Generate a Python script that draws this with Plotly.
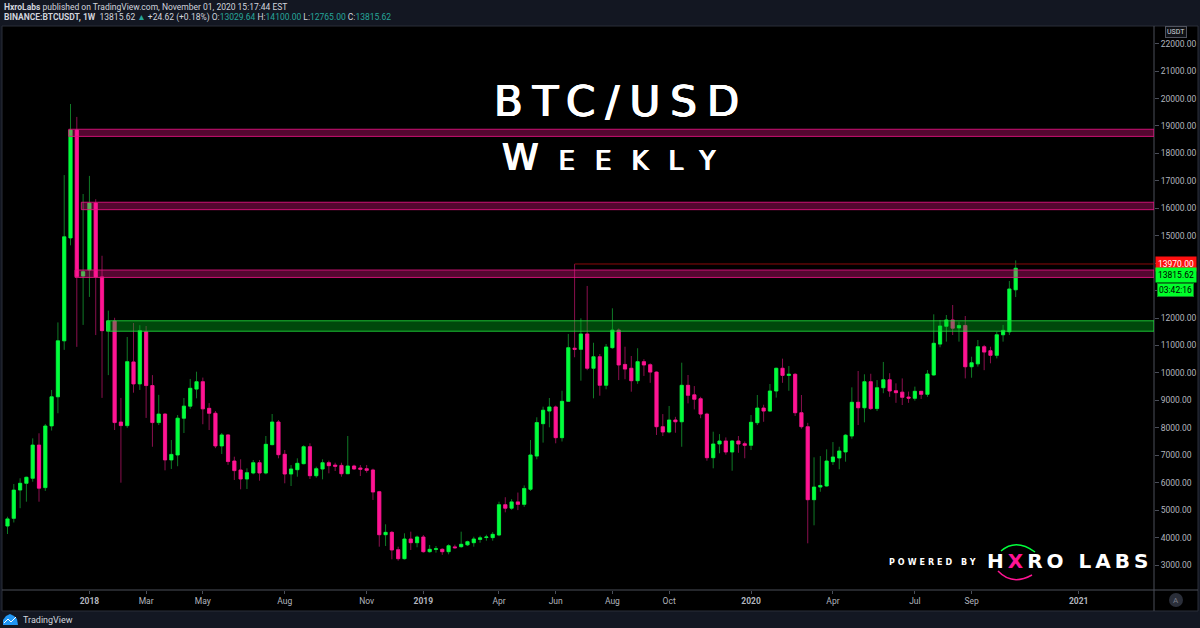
import plotly.graph_objects as go
import pandas as pd

# ---------------- data (weekly BINANCE:BTCUSDT) ----------------
week_start = "2017-10-02"
opens = [4420, 4700, 5733, 5977, 6160, 7370, 5820, 8070, 9130, 11170,
         14920, 18850, 13530, 13750, 16190, 13500, 11540, 11890, 8210, 8080,
         10400, 9600, 11500, 9540, 8190, 8500, 6830, 7010, 8350, 8790,
         9410, 9680, 8710, 8530, 7340, 7740, 6790, 6462, 6134, 6353,
         6728, 6353, 7386, 8211, 7034, 6316, 6473, 6692, 7311, 6254,
         6498, 6728, 6640, 6630, 6327, 6608, 6535, 6510, 6462, 5671,
         4104, 4190, 3558, 3230, 3948, 3813, 4020, 3485, 3570, 3572,
         3485, 3660, 3667, 3735, 3813, 3930, 4000, 3997, 4093, 5197,
         5070, 5300, 5210, 5760, 6970, 8150, 8610, 8760, 7640, 8965,
         10900, 10860, 11420, 10170, 10590, 9550, 10920, 11560, 10310, 10170,
         9717, 10410, 10300, 10030, 8040, 7847, 8284, 8220, 9549, 9200,
         9060, 8500, 6910, 7410, 7520, 7118, 7520, 7420, 7362, 8186,
         8720, 8610, 9340, 10170, 9910, 9950, 8550, 8040, 5380, 5840,
         5880, 6765, 6900, 7120, 7700, 8930, 8730, 9680, 8700, 9460,
         9750, 9350, 9300, 9120, 9075, 9330, 9220, 9925, 11050, 11700,
         11930, 11640, 11730, 10225, 10330, 10955, 10810, 10640, 11390, 11500,
         13029.64]
highs = [4760, 5950, 6160, 6218, 7615, 7800, 8140, 9380, 11840, 17210,
         19800, 19330, 16520, 17180, 16330, 14270, 12270, 12010, 9090, 11310,
         11820, 11740, 11710, 9920, 9200, 8530, 7555, 8466, 9086, 9780,
         10045, 9830, 8900, 8610, 7810, 7770, 6947, 6852, 6524, 6827,
         6827, 7701, 8503, 8284, 7191, 6644, 6888, 7362, 7435, 6582,
         6852, 6801, 6728, 6728, 7700, 6655, 6644, 6644, 6510, 5700,
         4483, 4239, 3667, 4155, 4215, 4070, 4093, 3729, 3692, 3608,
         3754, 3740, 4215, 3885, 4031, 4068, 4104, 4200, 5307, 5470,
         5400, 5640, 5900, 7555, 8383, 8770, 9086, 8810, 9350, 11420,
         13970, 11990, 13170, 11100, 10690, 11054, 12355, 11620, 10955, 10617,
         10900, 10500, 10350, 10060, 8500, 8795, 8400, 10373, 9924, 9520,
         9130, 8550, 7858, 7770, 7650, 7550, 7700, 7500, 8466, 9195,
         8840, 9596, 10190, 10520, 10250, 9990, 9195, 8180, 6925, 6970,
         7216, 7480, 7310, 7770, 9475, 10070, 9950, 9970, 9740, 10400,
         9990, 9620, 9800, 9320, 9500, 9340, 10105, 12135, 11930, 12110,
         12475, 11870, 12075, 10590, 11200, 11020, 10955, 11500, 11750, 13350,
         14100]
lows = [4130, 4550, 5070, 5307, 6035, 5307, 5700, 7900, 8530, 10840,
        14650, 10950, 11750, 12770, 11380, 9090, 9920, 7920, 6000, 8000,
        9280, 9380, 8360, 7310, 8100, 6450, 6500, 6600, 7810, 8690,
        9075, 8130, 7920, 7260, 7045, 6650, 6098, 5758, 5770, 6305,
        6072, 6305, 7362, 6888, 5977, 5879, 6218, 6670, 6134, 6182,
        6122, 6342, 6426, 6218, 6316, 6462, 6243, 6364, 5370, 3667,
        3692, 3207, 3157, 3200, 3547, 3645, 3450, 3450, 3450, 3370,
        3390, 3594, 3630, 3692, 3667, 3813, 3885, 3885, 4050, 4920,
        5010, 5000, 5120, 5700, 6852, 7460, 8018, 7435, 7500, 8950,
        10570, 9717, 10100, 9075, 9170, 9403, 10880, 9740, 9770, 9316,
        9600, 9890, 9640, 7738, 7700, 7800, 7820, 7310, 8890, 8670,
        8350, 6800, 6524, 7070, 7020, 6436, 7090, 6890, 7190, 8100,
        8220, 8580, 9100, 9640, 9350, 8430, 7970, 3790, 4447, 5670,
        5855, 6644, 6490, 6765, 7600, 8100, 8200, 8650, 8610, 9260,
        9130, 8910, 8830, 8910, 8990, 9050, 9130, 9900, 10935, 11140,
        11380, 11140, 9800, 9825, 10230, 10100, 10350, 10530, 11140, 11380,
        12765]
closes = [4680, 5730, 5977, 6197, 7370, 5800, 8066, 9130, 11170, 14960,
          18850, 13510, 13690, 16190, 13500, 11540, 11890, 8190, 8080, 10410,
          9600, 11540, 9540, 8190, 8500, 6830, 7030, 8350, 8790, 9440,
          9680, 8690, 8530, 7340, 7740, 6770, 6440, 6134, 6364, 6728,
          6353, 7398, 8211, 7020, 6316, 6499, 6706, 7311, 6254, 6510,
          6728, 6619, 6600, 6327, 6608, 6500, 6488, 6450, 5660, 4104,
          4190, 3547, 3230, 3948, 3813, 4020, 3485, 3572, 3590, 3485,
          3703, 3630, 3754, 3850, 3948, 3990, 4020, 4118, 5197, 5070,
          5300, 5210, 5790, 7010, 8190, 8640, 8760, 7640, 8965, 10920,
          10860, 11420, 10170, 10590, 9550, 10945, 11560, 10290, 10140, 9717,
          10410, 10290, 10030, 8040, 7847, 8284, 8220, 9549, 9184, 9040,
          8500, 6910, 7410, 7520, 7118, 7520, 7410, 7362, 8200, 8720,
          8610, 9340, 10170, 9910, 9950, 8550, 8040, 5380, 5840, 5900,
          6790, 6936, 7155, 7730, 8930, 8730, 9680, 8700, 9460, 9750,
          9340, 9280, 9110, 9080, 9330, 9220, 9960, 11080, 11710, 11930,
          11630, 11730, 10225, 10370, 10955, 10760, 10640, 11390, 11550, 13060,
          13815.62]

dates = pd.date_range(week_start, periods=len(opens), freq="7D")

# drawn zones (support / resistance) and the 2019 high line
zone_starts = ["2017-12-09", "2017-12-23", "2017-12-16", "2018-01-20"]
zone_lows = [18620, 15950, 13480, 11520]
zone_highs = [18880, 16220, 13750, 11900]
zone_kinds = ["res", "res", "res", "sup"]
high_level = 13970
high_start = "2019-06-24"
last_close = 13815.62
countdown = "03:42:16"

x_range = ["2017-09-27", "2021-03-28 16:00"]
y_range = [2089, 22643]
x_tick_dates = ["2018-01-01", "2018-03-05", "2018-05-07", "2018-08-06", "2018-11-05",
                "2019-01-07", "2019-04-01", "2019-06-03", "2019-08-05", "2019-10-07",
                "2020-01-06", "2020-04-06", "2020-07-06", "2020-09-07", "2021-01-04"]
x_tick_labels = ["<b>2018</b>", "Mar", "May", "Aug", "Nov", "<b>2019</b>", "Apr", "Jun",
                 "Aug", "Oct", "<b>2020</b>", "Apr", "Jul", "Sep", "<b>2021</b>"]
y_ticks = [3000, 4000, 5000, 6000, 7000, 8000, 9000, 10000, 11000, 12000,
           13000, 14000, 15000, 16000, 17000, 18000, 19000, 20000, 21000, 22000]
y_tick_labels = [f"{v:.2f}" for v in y_ticks]
# labels hidden by TradingView next to the price labels
y_tick_labels[y_ticks.index(13000)] = ""
y_tick_labels[y_ticks.index(14000)] = ""

# ---------------- styling ----------------
W, H = 1200, 628
ML, MR, MT, MB = 3, 46, 26, 38
PW, PH = W - ML - MR, H - MT - MB


def px(x):
    return (x - ML) / PW


def py(y):
    return (H - MB - y) / PH


UP, DN = "#00ff3c", "#ff1493"
UP_W, DN_W = "#0f7a26", "#8a0f4e"
AX = "#4a4e59"
TXT = "#b2b5be"
BG = "#131722"
EMBOLDEN = "0.7px 0 0 #ffffff, -0.7px 0 0 #ffffff, 0 0.4px 0 #ffffff"

body_hi = [max(o, c) for o, c in zip(opens, closes)]
body_lo = [min(o, c) for o, c in zip(opens, closes)]

fig = go.Figure()
# wicks
fig.add_trace(go.Candlestick(
    x=dates, open=opens, high=highs, low=lows, close=closes,
    increasing=dict(line=dict(color=UP_W, width=1), fillcolor=UP_W),
    decreasing=dict(line=dict(color=DN_W, width=1), fillcolor=DN_W),
    hoverinfo="skip", showlegend=False))
# bodies
fig.add_trace(go.Candlestick(
    x=dates, open=opens, high=body_hi, low=body_lo, close=closes,
    increasing=dict(line=dict(color=UP, width=0.6), fillcolor=UP),
    decreasing=dict(line=dict(color=DN, width=0.6), fillcolor=DN),
    hoverinfo="skip", showlegend=False))

shapes = []
# chart panel (black) with frame
shapes.append(dict(type="rect", xref="paper", yref="paper", x0=px(2), x1=px(1198),
                   y0=py(611), y1=py(26), fillcolor="#000000",
                   line=dict(color="#2a2e39", width=1), layer="below"))
# axis separators
shapes.append(dict(type="line", xref="paper", yref="paper", x0=px(2), x1=px(1198),
                   y0=0, y1=0, line=dict(color=AX, width=1)))
shapes.append(dict(type="line", xref="paper", yref="paper", x0=1, x1=1,
                   y0=py(611), y1=1, line=dict(color=AX, width=1)))

for s, lo, hi, kind in zip(zone_starts, zone_lows, zone_highs, zone_kinds):
    if kind == "res":
        fill, edge = "rgba(255,20,147,0.33)", "rgba(230,20,130,0.85)"
    else:
        fill, edge = "rgba(0,190,30,0.38)", "rgba(30,220,60,0.85)"
    shapes.append(dict(type="rect", xref="x", yref="y", x0=s, x1=x_range[1],
                       y0=lo, y1=hi, fillcolor=fill, line=dict(color=edge, width=1),
                       layer="above"))

shapes.append(dict(type="line", xref="x", yref="y", x0=high_start, x1=x_range[1],
                   y0=high_level, y1=high_level, line=dict(color="#8b0a0a", width=1)))

# autoscale button circle
shapes.append(dict(type="circle", xref="paper", yref="paper", x0=px(1169), x1=px(1183),
                   y0=py(607), y1=py(593), fillcolor="#2a2e39", line=dict(width=0)))
# TradingView logo (simple cloud mark)
shapes.append(dict(type="path", xref="paper", yref="paper",
                   path=(f"M {px(3)} {py(625)} L {px(3)} {py(620)} L {px(6)} {py(616)} "
                         f"L {px(10)} {py(614)} L {px(14)} {py(616)} L {px(17)} {py(619)} "
                         f"L {px(18)} {py(625)} Z"),
                   fillcolor="#2196f3", line=dict(width=0)))
shapes.append(dict(type="path", xref="paper", yref="paper",
                   path=(f"M {px(4)} {py(623)} L {px(8)} {py(619)} L {px(11)} {py(622)} "
                         f"L {px(16)} {py(617)}"),
                   line=dict(color="#ffffff", width=1)))
# ring around the X of the logo
shapes.append(dict(type="path", xref="paper", yref="paper",
                   path=(f"M {px(1001)} {py(551)} Q {px(1016)} {py(538)} {px(1035)} {py(552)}"),
                   line=dict(color="#00ff3c", width=1.5)))
shapes.append(dict(type="path", xref="paper", yref="paper",
                   path=(f"M {px(998)} {py(571)} Q {px(1012)} {py(586)} {px(1032)} {py(575)}"),
                   line=dict(color="#ff1493", width=1.5)))

ann = []
teal = "#26a69a"
ann.append(dict(x=px(2), y=py(7), xref="paper", yref="paper", xanchor="left", yanchor="middle",
                showarrow=False,
                text="<b>HxroLabs</b> published on TradingView.com, November 01, 2020 15:17:44 EST",
                font=dict(family="Roboto", size=8.5, color="#d1d4dc")))
ann.append(dict(x=px(2), y=py(18), xref="paper", yref="paper", xanchor="left", yanchor="middle",
                showarrow=False,
                text=("<b>BINANCE:BTCUSDT, 1W</b>  13815.62 "
                      f"<span style='color:{teal}'>▲</span> +24.62 (+0.18%) "
                      f"O:<span style='color:{teal}'>13029.64</span> "
                      f"H:<span style='color:{teal}'>14100.00</span> "
                      f"L:<span style='color:{teal}'>12765.00</span> "
                      f"C:<span style='color:{teal}'>13815.62</span>"),
                font=dict(family="Roboto", size=8.5, color="#d1d4dc")))

# big title
ann.append(dict(x=px(621), y=py(101), xref="paper", yref="paper", xanchor="center",
                yanchor="middle", showarrow=False,
                text="<span style='letter-spacing:10px'>BTC/USD</span>",
                font=dict(family="DejaVu Sans", size=42, color="#ffffff", shadow=EMBOLDEN)))
ann.append(dict(x=px(618), y=py(157), xref="paper", yref="paper", xanchor="center",
                yanchor="middle", showarrow=False,
                text="<span style='letter-spacing:20px;font-variant:small-caps'>Weekly</span>",
                font=dict(family="DejaVu Sans", size=37, color="#ffffff", shadow=EMBOLDEN)))

# powered by
ann.append(dict(x=px(933), y=py(562), xref="paper", yref="paper", xanchor="center",
                yanchor="middle", showarrow=False,
                text="<span style='letter-spacing:3px'><b>POWERED BY</b></span>",
                font=dict(family="DejaVu Sans", size=8, color="#ffffff")))
ann.append(dict(x=px(1069), y=py(561), xref="paper", yref="paper", xanchor="center",
                yanchor="middle", showarrow=False,
                text=("<span style='letter-spacing:4px'>H<span style='color:#ff1493'>X</span>"
                      "RO LABS</span>"),
                font=dict(family="DejaVu Sans", size=20, color="#ffffff", weight="bold")))

# right-side labels
ann.append(dict(x=1, y=high_level, xref="paper", yref="y", xanchor="left", yanchor="middle",
                showarrow=False, text="13970.00", bgcolor="#ff1010", borderpad=2,
                font=dict(family="Roboto", size=8.5, color="#ffffff"), xshift=1))
ann.append(dict(x=1, y=py(275), xref="paper", yref="paper", xanchor="left", yanchor="middle",
                showarrow=False, text=f"{last_close:.2f}", bgcolor="#00ff2a", borderpad=2,
                font=dict(family="Roboto", size=8.5, color="#000000"), xshift=1))
ann.append(dict(x=1, y=py(290), xref="paper", yref="paper", xanchor="left", yanchor="middle",
                showarrow=False, text=countdown, bgcolor="#00ff2a", borderpad=1,
                bordercolor="#0a8a1e", borderwidth=1,
                font=dict(family="Roboto", size=8.5, color="#000000"), xshift=3))
ann.append(dict(x=px(1176), y=py(32), xref="paper", yref="paper", xanchor="center",
                yanchor="middle", showarrow=False, text="USDT", bgcolor="#101217",
                bordercolor="#50535e", borderwidth=1, borderpad=1,
                font=dict(family="Roboto", size=7, color="#d1d4dc")))
ann.append(dict(x=px(1176), y=py(600), xref="paper", yref="paper", xanchor="center",
                yanchor="middle", showarrow=False, text="A",
                font=dict(family="Roboto", size=8, color="#787b86")))
ann.append(dict(x=px(21), y=py(620), xref="paper", yref="paper", xanchor="left",
                yanchor="middle", showarrow=False, text="TradingView",
                font=dict(family="Roboto", size=9, color="#d1d4dc")))

fig.update_layout(
    width=W, height=H,
    margin=dict(l=ML, r=MR, t=MT, b=MB, pad=0),
    paper_bgcolor=BG, plot_bgcolor="#000000",
    showlegend=False, boxgap=0.28,
    shapes=shapes, annotations=ann,
    xaxis=dict(type="date", range=x_range, rangeslider=dict(visible=False),
               showgrid=False, zeroline=False, showline=False,
               tickmode="array", tickvals=x_tick_dates, ticktext=x_tick_labels,
               ticks="outside", ticklen=3, tickcolor=AX, tickangle=0,
               tickfont=dict(family="Roboto", size=8.5, color=TXT), automargin=False),
    yaxis=dict(side="right", range=y_range, showgrid=False, zeroline=False,
               showline=False, tickmode="array", tickvals=y_ticks, ticktext=y_tick_labels,
               ticks="outside", ticklen=4, tickcolor=AX,
               tickfont=dict(family="Roboto", size=8.5, color=TXT), automargin=False),
)

fig.write_html("out.html", config={"displayModeBar": False},
               post_script="document.body.style.margin='0';document.body.style.overflow='hidden';")
